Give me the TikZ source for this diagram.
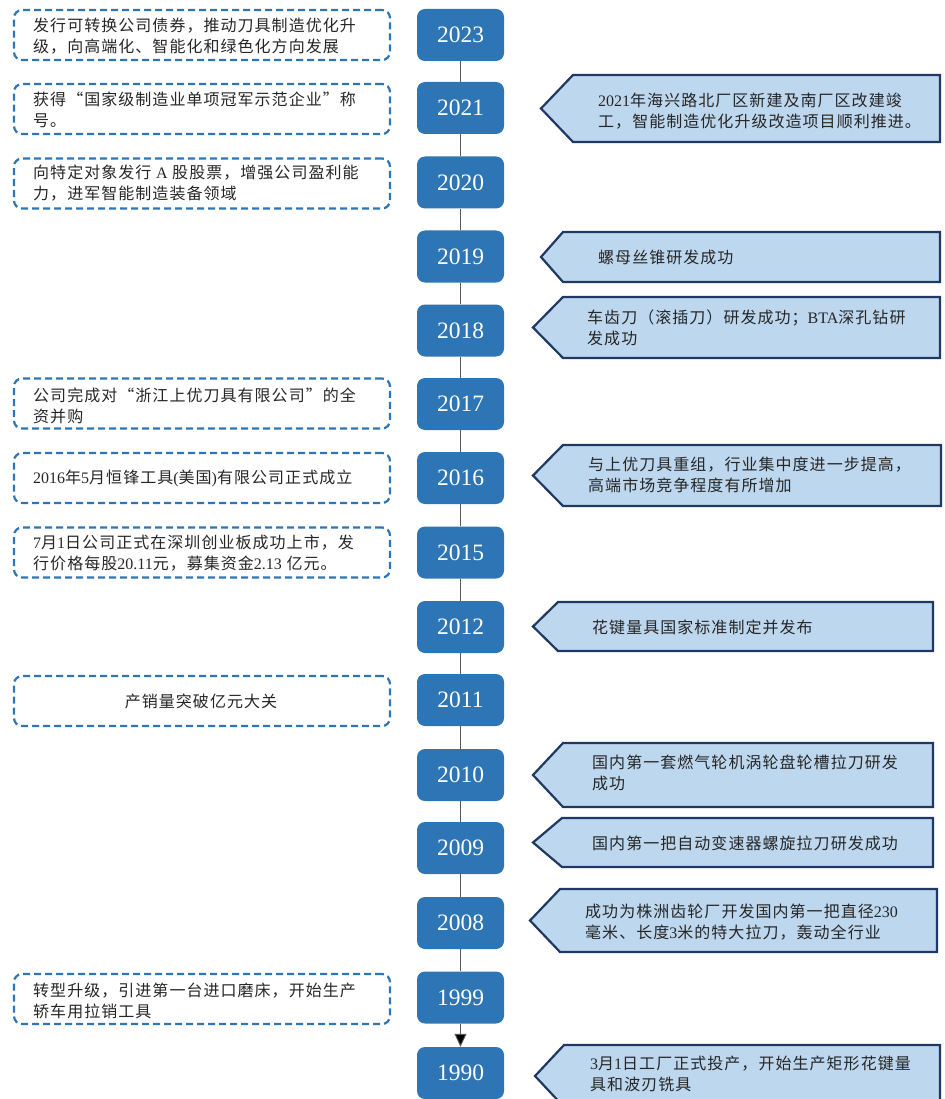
\documentclass[tikz,border=0pt]{standalone}
\usepackage{fontspec}
\usetikzlibrary{arrows.meta}
\setmainfont{Liberation Serif}
\newfontfamily\cjk[LetterSpace=6.5]{Noto Sans CJK SC}
\newfontfamily\lat{Liberation Serif}
\newcommand\en[1]{{\lat #1}}
\definecolor{ybox}{HTML}{2E75B6}
\definecolor{dashc}{HTML}{2E75B6}
\definecolor{rfill}{HTML}{BDD7EE}
\definecolor{rdraw}{HTML}{203864}
\definecolor{tl}{HTML}{595959}
\definecolor{txt}{HTML}{262626}
\newcommand\callout[5]{% tip x, body x, right x, top y, bottom y
  \draw[callout] (#1,{(#4+#5)/2}) -- (#2,#4) -- (#3,#4) -- (#3,#5) -- (#2,#5) -- cycle;}
\begin{document}
\begin{tikzpicture}[x=1pt,y=-1pt,
  year/.style={fill=ybox,rounded corners=8pt,minimum width=87pt,minimum height=52pt,inner sep=0pt,text=white,font=\lat\fontsize{23.5}{23.5}\selectfont},
  lbox/.style={draw=dashc,dash pattern=on 7pt off 4pt,line width=2.2pt,rounded corners=8pt,minimum width=376pt,minimum height=50pt,inner sep=0pt},
  ltext/.style={anchor=west,align=left,inner sep=0pt,text=txt,font=\cjk\fontsize{16}{21}\selectfont},
  callout/.style={fill=rfill,draw=rdraw,line width=2.2pt,line join=miter},
  conn/.style={draw=tl,line width=0.9pt}]
\useasboundingbox (0,0) rectangle (944,1099);

% year boxes
\node[year] (y2023) at (460.5,35) {2023};
\node[year] (y2021) at (460.5,108) {2021};
\node[year] (y2020) at (460.5,182.5) {2020};
\node[year] (y2019) at (460.5,256.5) {2019};
\node[year] (y2018) at (460.5,330.5) {2018};
\node[year] (y2017) at (460.5,404) {2017};
\node[year] (y2016) at (460.5,478) {2016};
\node[year] (y2015) at (460.5,552.5) {2015};
\node[year] (y2012) at (460.5,627) {2012};
\node[year] (y2011) at (460.5,700) {2011};
\node[year] (y2010) at (460.5,775) {2010};
\node[year] (y2009) at (460.5,848) {2009};
\node[year] (y2008) at (460.5,923) {2008};
\node[year] (y1999) at (460.5,997.5) {1999};
\node[year] (y1990) at (460.5,1073) {1990};

% connectors
\draw[conn] (y2023) -- (y2021);
\draw[conn] (y2021) -- (y2020);
\draw[conn] (y2020) -- (y2019);
\draw[conn] (y2019) -- (y2018);
\draw[conn] (y2018) -- (y2017);
\draw[conn] (y2017) -- (y2016);
\draw[conn] (y2016) -- (y2015);
\draw[conn] (y2015) -- (y2012);
\draw[conn] (y2012) -- (y2011);
\draw[conn] (y2011) -- (y2010);
\draw[conn] (y2010) -- (y2009);
\draw[conn] (y2009) -- (y2008);
\draw[conn] (y2008) -- (y1999);
\draw[conn,-{Triangle[width=12pt,length=13pt,fill=black]}] (y1999) -- (y1990);

% left dashed boxes
\node[lbox] (l2023) at (202,35) {};
\node[ltext] (t2023) at (33,36) {发行可转换公司债券，推动刀具制造优化升\\级，向高端化、智能化和绿色化方向发展};
\node[lbox] (l2021) at (202,109) {};
\node[ltext] (t2021) at (33,110) {获得“国家级制造业单项冠军示范企业”称\\号。};
\node[lbox] (l2020) at (202,183.5) {};
\node[ltext] (t2020) at (33,183.5) {向特定对象发行 \en{A} 股股票，增强公司盈利能\\力，进军智能制造装备领域};
\node[lbox] (l2017) at (202,403.5) {};
\node[ltext] (t2017) at (33,406) {公司完成对“浙江上优刀具有限公司”的全\\资并购};
\node[lbox] (l2016) at (202,478) {};
\node[ltext] (t2016) at (33,478) {\en{2016}年\en{5}月恒锋工具\en{(}美国\en{)}有限公司正式成立};
\node[lbox] (l2015) at (202,552.5) {};
\node[ltext] (t2015) at (33,553) {\en{7}月\en{1}日公司正式在深圳创业板成功上市，发\\行价格每股\en{20.11}元，募集资金\en{2.13} 亿元。};
\node[lbox] (l2011) at (202,701) {};
\node[ltext,anchor=center] (t2011) at (201,701) {产销量突破亿元大关};
\node[lbox] (l1999) at (202,999) {};
\node[ltext] (t1999) at (33,1001) {转型升级，引进第一台进口磨床，开始生产\\轿车用拉销工具};

% right callouts
\callout{541}{573}{940}{75}{142}
\node[ltext] (r2021) at (598,111) {\en{2021}年海兴路北厂区新建及南厂区改建竣\\工，智能制造优化升级改造项目顺利推进。};
\callout{541}{563}{940}{232}{282}
\node[ltext] (r2019) at (598,257) {螺母丝锥研发成功};
\callout{533}{563}{940}{297}{358}
\node[ltext] (r2018) at (587,328) {车齿刀（滚插刀）研发成功；\en{BTA}深孔钻研\\发成功};
\callout{533}{563}{941}{445}{506}
\node[ltext] (r2016) at (588,475) {与上优刀具重组，行业集中度进一步提高，\\高端市场竞争程度有所增加};
\callout{533}{558}{933}{602}{651}
\node[ltext] (r2012) at (592,627) {花键量具国家标准制定并发布};
\callout{533}{563}{933}{743}{807}
\node[ltext] (r2010) at (592,773) {国内第一套燃气轮机涡轮盘轮槽拉刀研发\\成功};
\callout{533}{562}{933}{818}{867}
\node[ltext] (r2009) at (592,843) {国内第一把自动变速器螺旋拉刀研发成功};
\callout{530}{560}{937}{889}{952}
\node[ltext] (r2008) at (585,922) {成功为株洲齿轮厂开发国内第一把直径\en{230}\\毫米、长度\en{3}米的特大拉刀，轰动全行业};
\callout{535}{564}{940}{1045}{1107}
\node[ltext] (r1990) at (590,1074) {\en{3}月\en{1}日工厂正式投产，开始生产矩形花键量\\具和波刃铣具};
\end{tikzpicture}
\end{document}
